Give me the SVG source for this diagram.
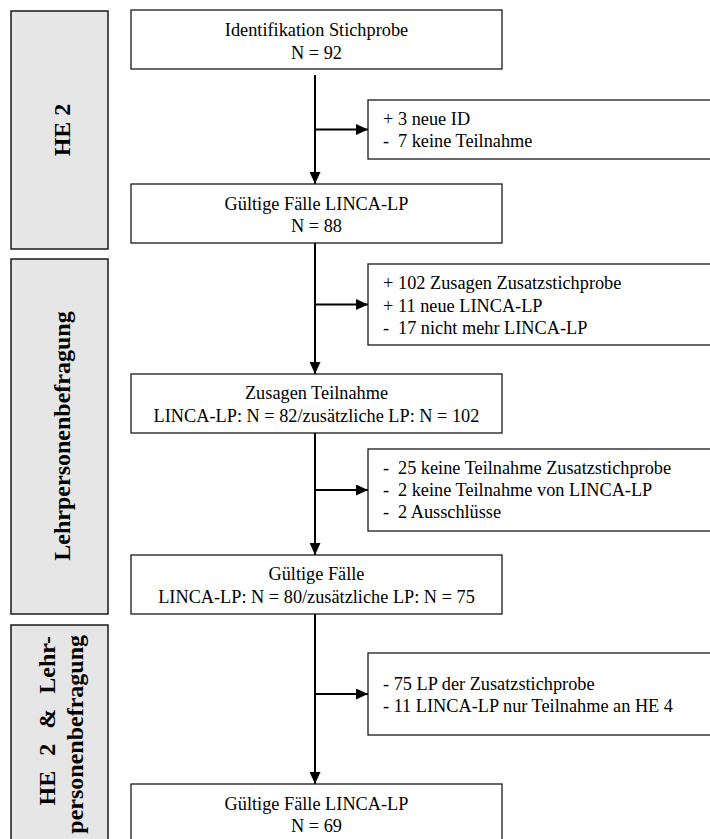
<svg xmlns="http://www.w3.org/2000/svg" width="710" height="839" viewBox="0 0 710 839">
<style>
.box{fill:#ffffff;stroke:#1a1a1a;stroke-width:1.3}
.phase{fill:#e6e6e6;stroke:#1a1a1a;stroke-width:1.5}
.t{font-family:"Liberation Serif","Times New Roman",serif;font-size:18.3px;fill:#000}
.c{text-anchor:middle}
.v{font-family:"Liberation Serif","Times New Roman",serif;font-size:24px;font-weight:bold;fill:#000}
.ln{stroke:#000;stroke-width:2;fill:none}
</style>
<defs>
<marker id="ah" markerUnits="userSpaceOnUse" markerWidth="12" markerHeight="11" refX="12" refY="5.5" orient="auto">
<path d="M0,0 L12,5.5 L0,11 Z" fill="#000"/>
</marker>
</defs>
<rect width="710" height="839" fill="#ffffff"/>

<g id="phase-he2">
<rect class="phase" x="11" y="11" width="97" height="238"/>
<text class="v" text-anchor="middle" transform="translate(69.5,130) rotate(-90)">HE 2</text>
</g>
<g id="phase-lehr">
<rect class="phase" x="11" y="259" width="97" height="355"/>
<text class="v" text-anchor="middle" transform="translate(69.5,436) rotate(-90)">Lehrpersonenbefragung</text>
</g>
<g id="phase-both">
<rect class="phase" x="11" y="625" width="97" height="230"/>
<text class="v" text-anchor="end" word-spacing="9" transform="translate(54.5,636) rotate(-90)">HE 2 &amp; Lehr-</text>
<text class="v" text-anchor="end" transform="translate(83,635) rotate(-90)">personenbefragung</text>
</g>

<g id="connectors">
<line class="ln" x1="315" y1="75" x2="315" y2="184" marker-end="url(#ah)"/>
<line class="ln" x1="315" y1="129.5" x2="368" y2="129.5" marker-end="url(#ah)"/>
<line class="ln" x1="315" y1="243" x2="315" y2="374" marker-end="url(#ah)"/>
<line class="ln" x1="315" y1="304.5" x2="368" y2="304.5" marker-end="url(#ah)"/>
<line class="ln" x1="315" y1="433" x2="315" y2="555" marker-end="url(#ah)"/>
<line class="ln" x1="315" y1="490" x2="368" y2="490" marker-end="url(#ah)"/>
<line class="ln" x1="315" y1="614" x2="315" y2="784" marker-end="url(#ah)"/>
<line class="ln" x1="315" y1="694" x2="368" y2="694" marker-end="url(#ah)"/>
</g>

<g id="n-identifikation">
<rect class="box" x="131" y="10" width="371" height="59"/>
<text class="t c" x="316.5" y="36">Identifikation Stichprobe</text>
<text class="t c" x="316.5" y="59">N = 92</text>
</g>
<g id="n-side1">
<rect class="box" x="368" y="100" width="350" height="59"/>
<text class="t" y="125"><tspan x="383">+ </tspan><tspan x="398">3 neue ID</tspan></text>
<text class="t" y="146.7"><tspan x="383">- </tspan><tspan x="398">7 keine Teilnahme</tspan></text>
</g>
<g id="n-gueltig1">
<rect class="box" x="131" y="184" width="371" height="59"/>
<text class="t c" x="316.5" y="209.5">Gültige Fälle LINCA-LP</text>
<text class="t c" x="316.5" y="232">N = 88</text>
</g>
<g id="n-side2">
<rect class="box" x="368" y="264" width="350" height="81"/>
<text class="t" y="289.3"><tspan x="383">+ </tspan><tspan x="398">102 Zusagen Zusatzstichprobe</tspan></text>
<text class="t" y="311.7"><tspan x="383">+ </tspan><tspan x="398">11 neue LINCA-LP</tspan></text>
<text class="t" y="334"><tspan x="383">- </tspan><tspan x="398">17 nicht mehr LINCA-LP</tspan></text>
</g>
<g id="n-zusagen">
<rect class="box" x="131" y="374" width="371" height="59"/>
<text class="t c" x="316.5" y="399">Zusagen Teilnahme</text>
<text class="t c" x="316.5" y="421.7">LINCA-LP: N = 82/zusätzliche LP: N = 102</text>
</g>
<g id="n-side3">
<rect class="box" x="368" y="449" width="350" height="82"/>
<text class="t" y="474"><tspan x="383">- </tspan><tspan x="398">25 keine Teilnahme Zusatzstichprobe</tspan></text>
<text class="t" y="496"><tspan x="383">- </tspan><tspan x="398">2 keine Teilnahme von LINCA-LP</tspan></text>
<text class="t" y="518.3"><tspan x="383">- </tspan><tspan x="398">2 Ausschlüsse</tspan></text>
</g>
<g id="n-gueltig2">
<rect class="box" x="131" y="555" width="371" height="59"/>
<text class="t c" x="316.5" y="580">Gültige Fälle</text>
<text class="t c" x="316.5" y="603">LINCA-LP: N = 80/zusätzliche LP: N = 75</text>
</g>
<g id="n-side4">
<rect class="box" x="368" y="653" width="350" height="82"/>
<text class="t" x="383" y="690">- 75 LP der Zusatzstichprobe</text>
<text class="t" x="383" y="711.7">- 11 LINCA-LP nur Teilnahme an HE 4</text>
</g>
<g id="n-gueltig3">
<rect class="box" x="131" y="784" width="371" height="59"/>
<text class="t c" x="316.5" y="809.5">Gültige Fälle LINCA-LP</text>
<text class="t c" x="316.5" y="832">N = 69</text>
</g>
</svg>
